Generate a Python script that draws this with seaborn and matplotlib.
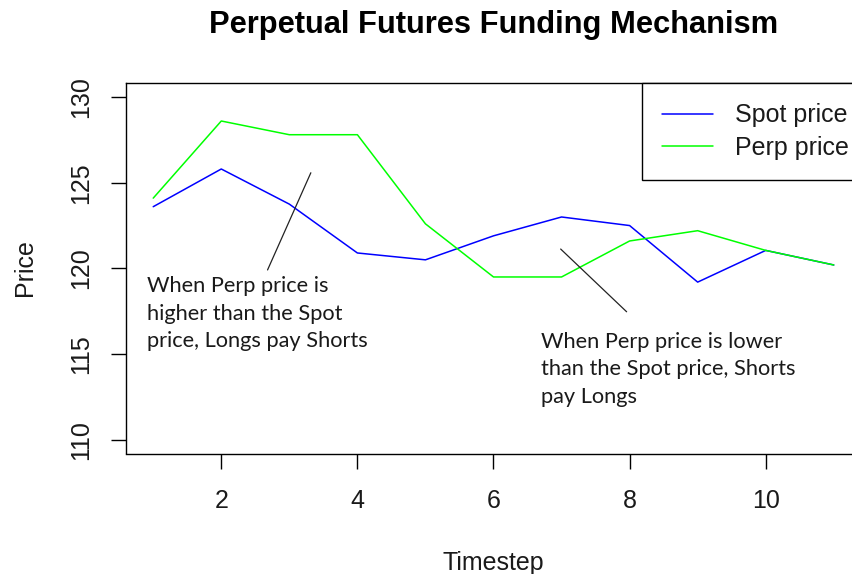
import matplotlib
matplotlib.use("Agg")
import matplotlib.pyplot as plt
import seaborn as sns
import pandas as pd
from matplotlib.lines import Line2D

# ---------------- data ----------------
timestep = [1, 2, 3, 4, 5, 6, 7, 8, 9, 10, 11]
spot_price = [123.6, 125.8, 123.75, 120.9, 120.5, 121.9, 123.0, 122.5, 119.2, 121.05, 120.2]
perp_price = [124.1, 128.6, 127.8, 127.8, 122.6, 119.5, 119.5, 121.6, 122.2, 121.05, 120.2]
series_names = ["Spot price", "Perp price"]
series_colors = ["#0000FF", "#00FF00"]

title = "Perpetual Futures Funding Mechanism"
x_label = "Timestep"
y_label = "Price"
x_ticks = [2, 4, 6, 8, 10]
y_ticks = [110, 115, 120, 125, 130]

note_high = "When Perp price is\nhigher than the Spot\nprice, Longs pay Shorts"
note_low = "When Perp price is lower\nthan the Spot price, Shorts\npay Longs"
note_high_pos = (0.907, 115.40)
note_low_pos = (6.70, 112.15)
pointer_high_x = [2.68, 3.316]
pointer_high_y = [119.91, 125.58]
pointer_low_x = [6.987, 7.956]
pointer_low_y = [121.13, 117.47]

# ---------------- style ----------------
sns.set_style("white")
plt.rcParams["font.family"] = ["Liberation Sans", "DejaVu Sans"]

W, H = 852, 574
fig = plt.figure(figsize=(W / 100, H / 100), dpi=100)
ax_l, ax_r, ax_t, ax_b = 126, 861, 83.3, 453.5
ax = fig.add_axes([ax_l / W, 1 - ax_b / H, (ax_r - ax_l) / W, (ax_b - ax_t) / H])

df = pd.DataFrame({
    "Timestep": timestep * 2,
    "Price": spot_price + perp_price,
    "Series": [series_names[0]] * len(timestep) + [series_names[1]] * len(timestep),
})
sns.lineplot(data=df, x="Timestep", y="Price", hue="Series",
             hue_order=series_names, palette=dict(zip(series_names, series_colors)),
             linewidth=1.1, ax=ax, legend=False, sort=False)

ax.set_xlim(0.6, 11.4)
ax.set_ylim(109.2, 130.8)
ax.set_xticks(x_ticks)
ax.set_yticks(y_ticks)
ax.set_xticklabels([str(t) for t in x_ticks])
ax.set_yticklabels([str(t) for t in y_ticks])

for s in ax.spines.values():
    s.set_visible(True)
    s.set_color("black")
    s.set_linewidth(1.0)

ax.tick_params(axis="both", direction="out", length=10.8, width=1.0,
               color="black", labelsize=18, labelcolor="#1a1a1a",
               bottom=True, left=True, top=False, right=False)
ax.tick_params(axis="x", pad=15)
ax.tick_params(axis="y", pad=12.8, labelrotation=90)
for lab in ax.get_yticklabels():
    lab.set_va("center")

ax.set_xlabel(x_label, fontsize=18, color="#1a1a1a", va="baseline")
ax.xaxis.set_label_coords(0.5, -(570 - ax_b) / (ax_b - ax_t))
ax.set_ylabel(y_label, fontsize=18, color="#1a1a1a", va="baseline")
ax.yaxis.set_label_coords((31.5 - ax_l) / (ax_r - ax_l), (ax_b - 268) / (ax_b - ax_t))

ax.text(0.5, (ax_b - 33) / (ax_b - ax_t), title, transform=ax.transAxes,
        ha="center", va="baseline", fontsize=22.2, fontweight="bold", color="black")

# annotations
ax.plot(pointer_high_x, pointer_high_y, color="#222222", linewidth=0.9)
ax.plot(pointer_low_x, pointer_low_y, color="#222222", linewidth=0.9)
ax.text(note_high_pos[0], note_high_pos[1], note_high, family=["Lato", "DejaVu Sans"],
        fontsize=15.7, color="#1a1a1a", ha="left", va="baseline", linespacing=1.47)
ax.text(note_low_pos[0], note_low_pos[1], note_low, family=["Lato", "DejaVu Sans"],
        fontsize=15.7, color="#1a1a1a", ha="left", va="baseline", linespacing=1.47)

# legend
handles = [Line2D([], [], color=c, linewidth=1.1) for c in series_colors]
leg = ax.legend(handles, series_names, loc="upper left",
                bbox_to_anchor=((642.3 - ax_l) / (ax_r - ax_l), 1.0),
                borderaxespad=0, frameon=True, fancybox=False, framealpha=1,
                edgecolor="black", fontsize=18, handlelength=2.04,
                handletextpad=0.87, borderpad=0.8, labelspacing=0.35)
leg.get_frame().set_linewidth(1.0)
for t in leg.get_texts():
    t.set_color("#1a1a1a")

fig.savefig("out.png", dpi=100, facecolor="white")
